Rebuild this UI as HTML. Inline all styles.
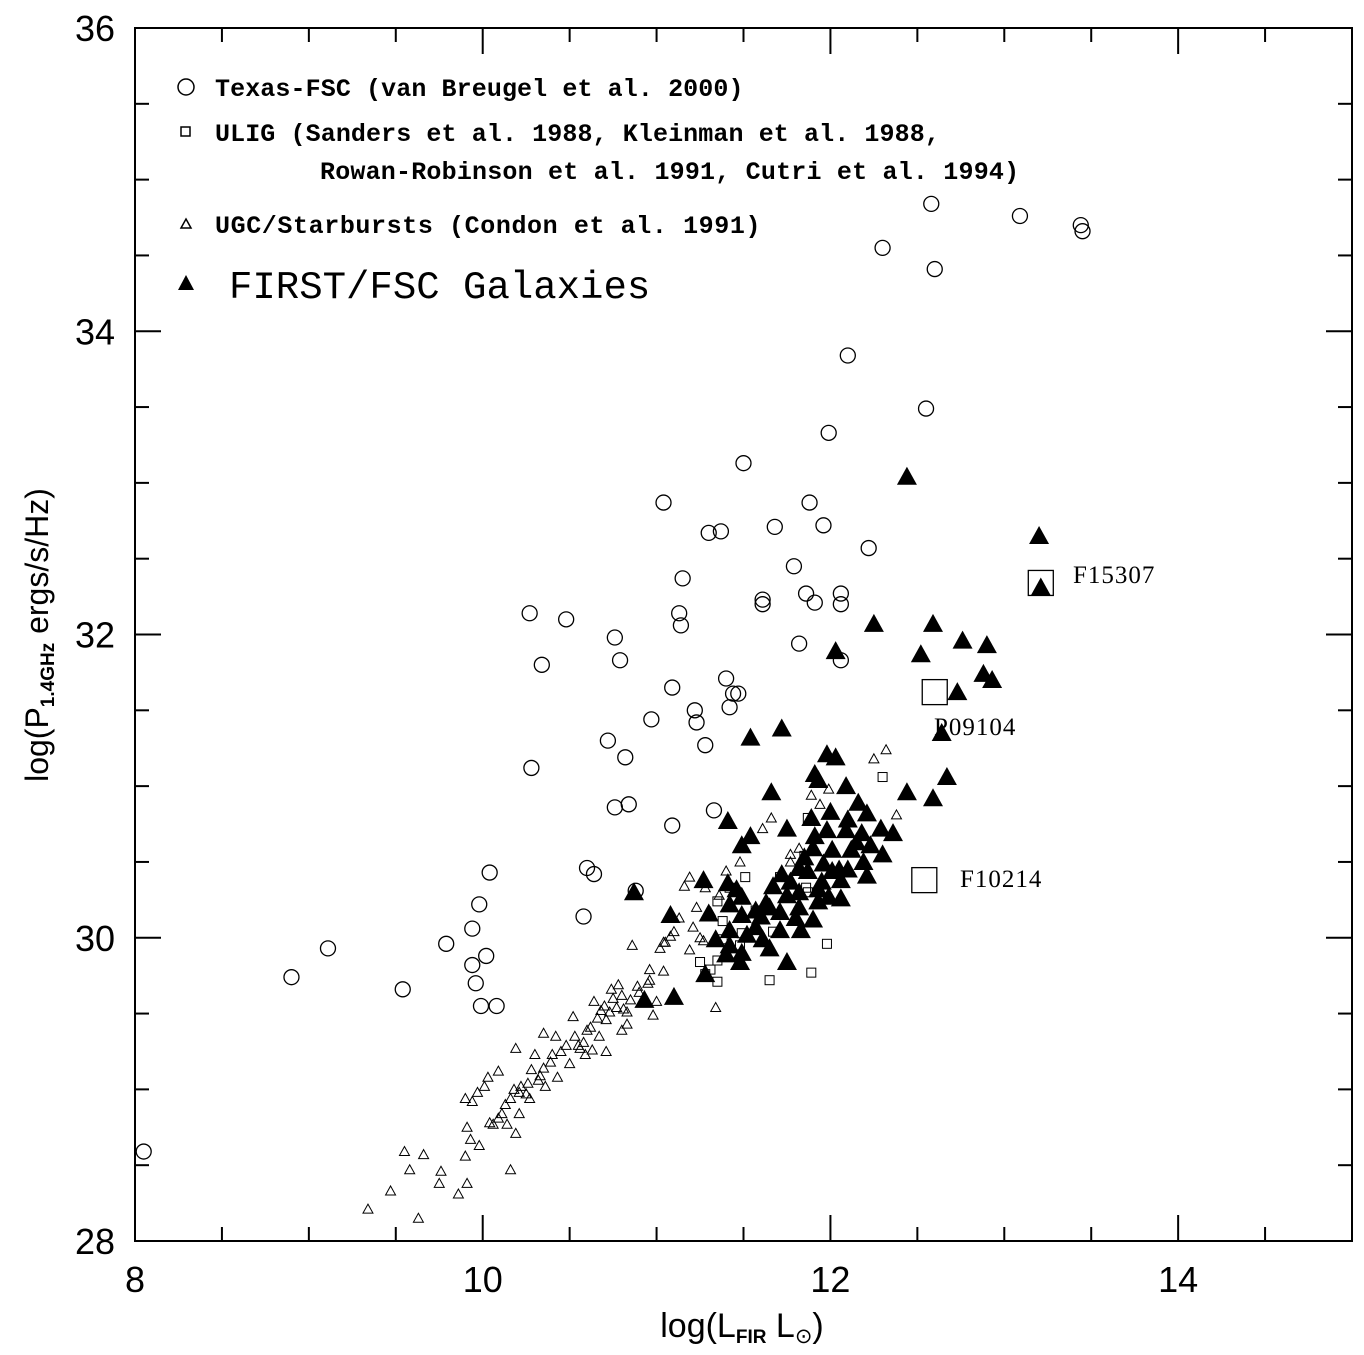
<!DOCTYPE html>
<html><head><meta charset="utf-8"><style>
html,body{margin:0;padding:0;background:#fff;}
svg{display:block;}
</style></head><body>
<svg id="chart" width="1364" height="1355" xmlns="http://www.w3.org/2000/svg">
<rect x="0" y="0" width="1364" height="1355" fill="#fff"/>
<g id="ticks"></g>
<g id="marks"></g>
<rect x="135" y="28" width="1217" height="1213" fill="none" stroke="#000" stroke-width="2"/>
<g id="labels" font-family="Liberation Sans, sans-serif" font-size="36" fill="#000"></g>
<text x="742" y="1337" text-anchor="middle" font-family="Liberation Sans, sans-serif" font-size="34">log(L<tspan font-size="19" font-weight="bold" dy="6">FIR</tspan><tspan dy="-6"> L</tspan><tspan font-size="21" dy="6">⊙</tspan><tspan dy="-6">)</tspan></text>
<text transform="translate(48,635) rotate(-90)" text-anchor="middle" font-family="Liberation Sans, sans-serif" font-size="32">log(P<tspan font-size="19" font-weight="bold" dy="6">1.4GHz</tspan><tspan dy="-6"> ergs/s/Hz)</tspan></text>
<g font-family="Liberation Mono, monospace" font-weight="bold" font-size="25">
 <circle cx="186" cy="87" r="8" fill="none" stroke="#000" stroke-width="1.5"/>
 <text x="215" y="96" letter-spacing="0.1">Texas-FSC (van Breugel et al. 2000)</text>
 <rect x="181" y="127" width="9" height="9" fill="none" stroke="#000" stroke-width="1.5"/>
 <text x="215" y="141" letter-spacing="0.1">ULIG (Sanders et al. 1988, Kleinman et al. 1988,</text>
 <text x="320" y="179" letter-spacing="0.2">Rowan-Robinson et al. 1991, Cutri et al. 1994)</text>
 <path d="M186,219 L191,228 L181,228 Z" fill="none" stroke="#000" stroke-width="1.5"/>
 <text x="215" y="233" letter-spacing="0.6">UGC/Starbursts (Condon et al. 1991)</text>
 <path d="M186,275 L194,290 L178,290 Z" fill="#000"/>
 <text x="229" y="298" font-weight="normal" font-size="39">FIRST/FSC Galaxies</text>
</g>
<g font-family="Liberation Serif, serif" font-size="25">
 <text x="1073" y="583" letter-spacing="1">F15307</text>
 <text x="934" y="735" letter-spacing="1">P09104</text>
 <text x="960" y="887" letter-spacing="1">F10214</text>
</g>
</svg>
<script>
const xTicks=[8,10,12,14];
const yTicks=[28,30,32,34,36];
const circX=[8.05,8.90,9.11,9.54,9.79,9.94,9.98,9.94,9.96,9.99,10.02,10.08,10.04,10.27,10.28,10.34,10.48,10.58,10.60,10.64,10.72,10.76,10.76,10.79,10.82,10.84,10.88,10.97,11.04,11.09,11.09,11.13,11.14,11.15,11.22,11.23,11.28,11.30,11.33,11.37,11.40,11.42,11.44,11.47,11.50,11.68,11.61,11.61,11.79,11.82,11.86,11.88,11.91,11.96,11.99,12.06,12.06,12.06,12.10,12.22,12.30,12.55,12.58,12.60,13.09,13.44,13.45];
const circY=[28.59,29.74,29.93,29.66,29.96,30.06,30.22,29.82,29.70,29.55,29.88,29.55,30.43,32.14,31.12,31.80,32.10,30.14,30.46,30.42,31.30,30.86,31.98,31.83,31.19,30.88,30.31,31.44,32.87,31.65,30.74,32.14,32.06,32.37,31.50,31.42,31.27,32.67,30.84,32.68,31.71,31.52,31.61,31.61,33.13,32.71,32.23,32.20,32.45,31.94,32.27,32.87,32.21,32.72,33.33,32.27,32.20,31.83,33.84,32.57,34.55,33.49,34.84,34.41,34.76,34.70,34.66];
const sqX=[11.98,11.89,11.65,11.35,11.28,11.35,11.38,11.49,11.35,11.42,11.51,11.71,11.87,11.85,11.87,11.67,12.30,11.48,11.25,11.38,11.57,11.86,11.31];
const sqY=[29.96,29.77,29.72,29.71,29.76,29.85,29.99,30.03,30.24,30.33,30.40,30.40,30.30,30.54,30.79,30.04,31.06,29.95,29.84,30.11,30.18,30.33,29.79];
const bigSqX=[13.21,12.60,12.54];
const bigSqY=[32.34,31.62,30.38];
const ugcX=[9.34,9.47,9.55,9.58,9.66,9.63,9.75,9.76,9.86,9.90,9.91,9.91,9.93,9.90,9.94,9.97,10.01,10.03,10.04,10.06,10.09,10.11,10.13,10.14,10.16,10.18,10.19,10.19,10.21,10.21,10.22,10.25,10.26,10.27,10.28,10.30,10.32,10.33,10.35,10.36,10.39,10.40,10.42,10.43,10.45,10.48,10.50,10.52,10.53,10.55,10.56,10.58,10.59,10.60,10.62,10.64,10.66,10.67,10.68,10.70,10.71,10.71,10.73,10.74,10.75,10.77,10.78,10.80,10.81,10.83,10.83,10.85,10.86,10.89,10.90,10.92,10.95,10.96,10.98,11.00,11.02,11.04,11.05,11.08,11.10,11.13,11.16,11.19,11.21,11.23,11.25,11.28,11.31,11.34,11.36,11.40,11.48,11.51,11.61,11.66,11.77,11.82,11.89,11.94,11.99,12.25,12.32,12.38,11.77,11.27,11.19,11.04,10.96,10.80,10.63,10.35,10.16,10.09,9.98];
const ugcY=[28.21,28.33,28.59,28.47,28.57,28.15,28.38,28.46,28.31,28.56,28.38,28.75,28.67,28.94,28.92,28.98,29.02,29.08,28.78,28.77,29.12,28.84,28.90,28.77,28.94,29.00,28.71,29.27,28.98,28.84,29.02,28.97,29.04,28.94,29.13,29.23,29.06,29.09,29.14,29.02,29.18,29.23,29.35,29.08,29.25,29.29,29.17,29.48,29.35,29.29,29.27,29.31,29.23,29.39,29.41,29.58,29.47,29.35,29.52,29.55,29.46,29.25,29.51,29.66,29.60,29.54,29.69,29.62,29.53,29.43,29.51,29.59,29.95,29.68,29.64,29.59,29.70,29.79,29.49,29.58,29.93,29.97,29.97,30.01,30.04,30.13,30.34,30.40,30.07,30.20,30.00,30.33,30.17,29.54,30.28,30.44,30.50,30.59,30.72,30.79,30.50,30.59,30.94,30.88,30.98,31.18,31.24,30.81,30.55,29.98,29.92,29.78,29.72,29.39,29.26,29.37,28.47,28.81,28.63];
const firstX=[13.20,13.21,12.44,12.25,12.59,12.76,12.90,12.52,12.03,12.73,12.88,12.93,12.64,12.67,12.44,12.59,11.72,11.54,11.98,12.03,11.91,11.93,11.66,12.09,11.41,11.54,11.49,11.75,11.89,12.00,12.16,12.21,12.29,12.36,12.23,12.12,12.01,11.90,11.85,12.10,12.19,12.30,11.96,11.87,12.06,12.21,11.93,11.82,11.75,11.67,11.63,11.57,11.49,11.41,11.27,11.42,11.30,11.49,11.60,11.71,11.82,11.93,12.06,11.99,11.52,11.61,11.71,11.83,11.42,11.49,11.40,11.28,11.48,11.75,11.08,10.87,10.93,11.10,11.57,11.65,11.90,11.95,12.01,12.15,12.09,11.82,11.77,11.46,11.34,11.65,11.42,11.72,11.80,12.10,11.91,11.98,12.05,12.18];
const firstY=[32.65,32.31,33.04,32.07,32.07,31.96,31.93,31.87,31.89,31.62,31.74,31.70,31.35,31.06,30.96,30.92,31.38,31.32,31.21,31.19,31.08,31.04,30.96,31.00,30.77,30.67,30.61,30.72,30.79,30.83,30.89,30.82,30.72,30.69,30.61,30.58,30.58,30.59,30.53,30.45,30.50,30.55,30.49,30.44,30.38,30.41,30.32,30.30,30.28,30.34,30.23,30.18,30.27,30.36,30.38,30.22,30.16,30.15,30.14,30.17,30.20,30.24,30.26,30.27,30.02,29.99,30.05,30.05,29.95,29.90,29.89,29.76,29.84,29.84,30.15,30.30,29.59,29.61,30.07,30.20,30.12,30.37,30.44,30.63,30.71,30.46,30.37,30.32,29.99,29.93,30.05,30.42,30.13,30.78,30.67,30.71,30.45,30.69];

const NS='http://www.w3.org/2000/svg';
const X0=135,X1=1352,Y0=1241,Y1=28;
function sx(v){return X0+(v-8)/(15-8)*(X1-X0);}
function sy(v){return Y0-(v-28)/(36-28)*(Y0-Y1);}
function mk(tag,attrs,parent){const e=document.createElementNS(NS,tag);for(const k in attrs)e.setAttribute(k,attrs[k]);parent.appendChild(e);return e;}
const tg=document.getElementById('ticks'),lg=document.getElementById('labels'),mg=document.getElementById('marks');
for(let v=8;v<=15.001;v+=0.5){
  const x=sx(v),len=(Math.abs(v-Math.round(v))<0.01&&Math.round(v)%2===0)?26:14;
  let t=mk('line',{x1:x,y1:Y0,x2:x,y2:Y0-len,stroke:'#000','stroke-width':2},tg);
  
  
  t=mk('line',{x1:x,y1:Y1,x2:x,y2:Y1+len,stroke:'#000','stroke-width':2},tg);
  
  
}
for(let v=28;v<=36.001;v+=0.5){
  const y=sy(v),len=(Math.abs(v-Math.round(v))<0.01&&Math.round(v)%2===0)?26:14;
  let t=mk('line',{x1:X0,y1:y,x2:X0+len,y2:y,stroke:'#000','stroke-width':2},tg);
  
  
  t=mk('line',{x1:X1,y1:y,x2:X1-len,y2:y,stroke:'#000','stroke-width':2},tg);
  
  
}
xTicks.forEach(v=>{const t=mk('text',{x:sx(v),y:1292,'text-anchor':'middle'},lg);t.textContent=v;
  
  });
yTicks.forEach(v=>{const t=mk('text',{x:115,y:sy(v)+13,'text-anchor':'end'},lg);t.textContent=v;
  
  });
circX.forEach((v,i)=>{const c=mk('circle',{cx:sx(v),cy:sy(circY[i]),r:7.5,fill:'none',stroke:'#000','stroke-width':1.3},mg);
  
  });
ugcX.forEach((v,i)=>{const x=sx(v),y=sy(ugcY[i]);const p=mk('path',{d:`M${x},${y-5} L${x+5},${y+4} L${x-5},${y+4} Z`,fill:'none',stroke:'#000','stroke-width':1},mg);
  
  });
sqX.forEach((v,i)=>{const x=sx(v),y=sy(sqY[i]);const r=mk('rect',{x:x-4.5,y:y-4.5,width:9,height:9,fill:'none',stroke:'#000','stroke-width':1},mg);
  
  });
bigSqX.forEach((v,i)=>{const x=sx(v),y=sy(bigSqY[i]);const r=mk('rect',{x:x-12.5,y:y-12.5,width:25,height:25,fill:'none',stroke:'#000','stroke-width':1.3},mg);
  
  });
firstX.forEach((v,i)=>{const x=sx(v),y=sy(firstY[i]);const p=mk('path',{d:`M${x},${y-10} L${x+10},${y+8} L${x-10},${y+8} Z`,fill:'#000'},mg);
  
  });
</script>
</body></html>
